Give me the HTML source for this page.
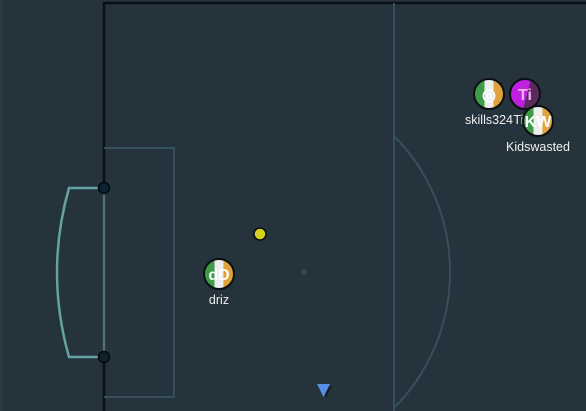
<!DOCTYPE html>
<html><head><meta charset="utf-8"><style>
html,body{margin:0;padding:0;background:#24333c;width:586px;height:411px;overflow:hidden}
svg{display:block;font-family:"Liberation Sans",sans-serif}
</style></head><body>
<svg id="pitch" width="586" height="411" viewBox="0 0 586 411">
<rect x="0" y="0" width="586" height="411" fill="#24333c"/>
<rect x="0" y="0" width="3" height="411" fill="#2f3a41"/>
<path d="M104,411 V3 H586" fill="none" stroke="#0b0f12" stroke-width="2.5"/>
<path d="M104,148 H174 V397 H104" fill="none" stroke="#35505c" stroke-width="2"/>
<line x1="394" y1="3" x2="394" y2="411" stroke="#35505c" stroke-width="2"/>
<path d="M394,136 A193,193 0 0 1 394,408" fill="none" stroke="#35505c" stroke-width="2"/>
<circle cx="304" cy="272" r="3" fill="#33454f"/>
<line x1="104" y1="188" x2="104" y2="357" stroke="#51707a" stroke-width="2.5"/>
<path d="M104,188 H69 Q45,272 69,357 H104" fill="none" stroke="#66a3a0" stroke-width="2.5"/>
<circle cx="104" cy="188" r="5.5" fill="#0d2330" stroke="#05090c" stroke-width="1.5"/>
<circle cx="104" cy="357" r="5.5" fill="#0d2330" stroke="#05090c" stroke-width="1.5"/>
<circle cx="260" cy="234" r="6" fill="#d4d21e" stroke="#0b0f12" stroke-width="1.5"/>
<polygon points="320,386 332,386 326,398" fill="#1a1f24"/>
<polygon points="317,384 330,384 323.5,397" fill="#5b8ee6"/>
<defs>
<clipPath id="c"><circle cx="0" cy="0" r="15"/></clipPath>
</defs>
<g id="players"></g>
</svg>
<script>
const names=["driz","skills324","Tiek","Kidswasted"];
const initials=["dD","◎","Ti","KW"];
const xs=[219,489,525,538];
const ys=[274,94,94,121];
const kinds=["irl","irl","purple","irl"];
const g=document.getElementById('players');
const ns="http://www.w3.org/2000/svg";
function el(t,a){const e=document.createElementNS(ns,t);for(const k in a)e.setAttribute(k,a[k]);return e;}
function token(i){
  const p=el('g',{transform:`translate(${xs[i]},${ys[i]})`});
  
  
  const inner=el('g',{'clip-path':'url(#c)'});
  if(kinds[i]==='irl'){
    inner.appendChild(el('rect',{x:-15,y:-15,width:10.5,height:30,fill:'#3f9a4a'}));
    inner.appendChild(el('rect',{x:-4.5,y:-15,width:9,height:30,fill:'#eeeeee'}));
    inner.appendChild(el('rect',{x:4.5,y:-15,width:11,height:30,fill:'#e0a23a'}));
  } else {
    inner.appendChild(el('rect',{x:-15,y:-15,width:30,height:30,fill:'#c020e0'}));
    inner.appendChild(el('polygon',{points:'6,-15 15,-15 15,15 -2,15',fill:'#5a2a5e'}));
  }
  p.appendChild(inner);
  p.appendChild(el('circle',{cx:0,cy:0,r:15,fill:'none',stroke:'#0b0f12','stroke-width':2}));
  const t=el('text',{x:0,y:6,'text-anchor':'middle','font-size':16,'font-weight':'bold',fill:kinds[i]==='purple'?'#f3b0f5':'#ffffff'});
  t.textContent=initials[i];
  
  
  p.appendChild(t);
  g.appendChild(p);
}
function label(i){
  const l=el('text',{x:xs[i],y:ys[i]+30,'text-anchor':'middle','font-size':12.5,fill:'#f0f0f0'});
  l.textContent=names[i];
  
  
  g.appendChild(l);
}
[0,1,2].forEach(token);
[0,1,2].forEach(label);
token(3);label(3);
</script>
</body></html>
